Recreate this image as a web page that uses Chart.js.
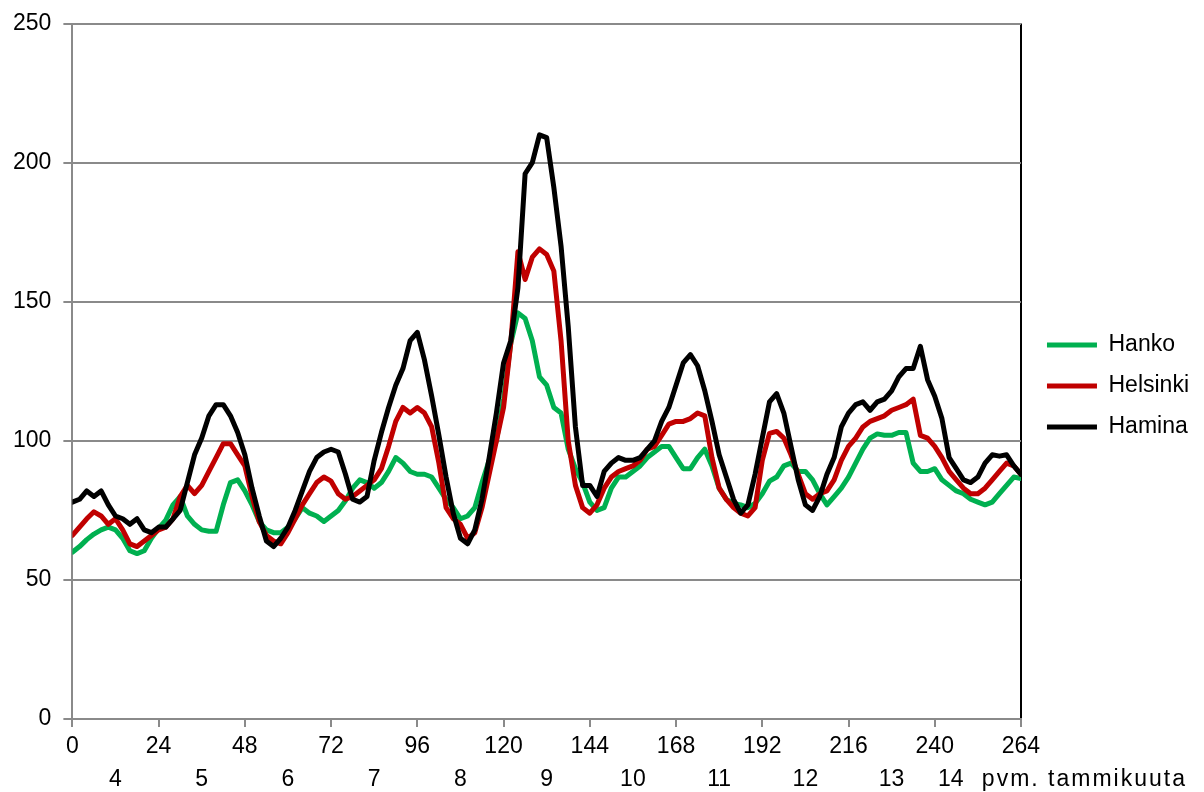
<!DOCTYPE html>
<html>
<head>
<meta charset="utf-8">
<script src="https://cdn.jsdelivr.net/npm/chart.js@4.4.1/dist/chart.umd.min.js"></script>
<style>
  html, body { margin: 0; padding: 0; background: #fff; }
  #wrap { width: 1204px; height: 792px; position: relative; }
</style>
</head>
<body>
<div id="wrap"><canvas id="chart"></canvas></div>
<script>
// tunnit 0..264, 2 h välein
const hours = Array.from({ length: 133 }, (_, i) => i * 2);

const hanko = [
  60, 62, 64.5, 66.5, 68, 69, 68, 65, 60.5, 59.5, 60.5, 65,
  68.5, 71.5, 77, 80, 73, 70, 68, 67.5, 67.5, 77, 85, 86,
  82, 77, 71, 68, 67, 67, 69, 72, 76, 74, 73, 71,
  73, 75, 78.5, 83, 86, 85, 83, 85, 89, 94, 92, 89,
  88, 88, 87, 83, 79, 76, 72, 73, 76, 85, 93, 100,
  115, 135, 146, 144, 136, 123, 120, 112, 110, 97, 90, 85,
  78, 75, 76, 83, 87, 87, 89, 91, 94, 96, 98, 98,
  94, 90, 90, 94, 97, 91, 83, 79, 77.5, 77, 76, 77.5,
  81, 85.5, 87, 91, 92, 89, 89, 86, 81, 77, 80, 83,
  87, 92, 97, 101, 102.5, 102, 102, 103, 103, 92, 89, 89,
  90, 86, 84, 82, 81, 79, 78, 77, 78, 81, 84, 87,
  86.5
];

const helsinki = [
  66, 69, 72, 74.5, 73, 70, 72, 68, 63, 62, 64, 66,
  68, 69, 72, 80, 84, 81, 84, 89, 94, 99, 99, 95,
  91, 80, 71, 66, 64, 63, 67, 72, 77, 81, 85, 87,
  85.5, 81, 79, 80, 82, 84, 86, 90, 98, 107, 112, 110,
  112, 110, 105, 92, 76, 72, 70, 65, 67, 76, 88, 100,
  112, 135, 168, 158, 166, 169, 167, 161, 136, 100, 84, 76,
  74, 77, 83, 87, 89, 90, 91, 93, 97, 98, 102, 106,
  107, 107, 108, 110, 109, 94, 83, 79, 76, 74, 73, 76,
  93, 102.7, 103.4, 101, 95, 88, 81, 79, 81, 82, 86, 93,
  98, 101, 105, 107, 108, 109, 111, 112, 113, 115, 102, 101,
  98, 94, 89, 86, 83, 81, 81, 83, 86, 89, 92, 91,
  88
];

const hamina = [
  78, 79, 82, 80, 82, 77, 73, 72, 70, 72, 68, 67,
  69, 69, 72, 75, 85, 95, 101, 109, 113, 113, 109, 103,
  95, 83, 73, 64, 62, 65, 69, 75, 82, 89, 94, 96,
  97, 96, 88, 79, 78, 80, 93, 103, 112, 120, 126, 136,
  139, 129, 116, 102, 87, 74, 65, 63, 68, 79, 94, 110,
  128, 136, 155, 196, 200, 210, 209, 191, 170, 141, 105, 84,
  84, 80, 89, 92, 94, 93, 93, 94, 97, 100, 107, 112,
  120, 128, 131, 127, 118, 107, 95, 87, 79, 74, 77, 88,
  101, 114, 117, 110, 98, 86, 77, 75, 80, 88, 94, 105,
  110, 113, 114, 111, 114, 115, 118, 123, 126, 126, 134, 122,
  116, 108, 94, 90, 86, 85, 87, 92, 95, 94.5, 95, 91,
  88
];

const seriesNames = ['Hanko', 'Helsinki', 'Hamina'];
const seriesColors = ['#00B050', '#C00000', '#000000'];
const hourTicks = [0, 24, 48, 72, 96, 120, 144, 168, 192, 216, 240, 264];
const dayTicks = [12, 36, 60, 84, 108, 132, 156, 180, 204, 228];
const dayLabels = ['4', '5', '6', '7', '8', '9', '10', '11', '12', '13'];
const lastDay = '14';
const unitText = 'pvm. tammikuuta';

const FONT = "'Liberation Sans', Arial, sans-serif";
const GRID = '#8a8a8a';

function toPoints(arr) {
  return arr.map((v, i) => ({ x: hours[i], y: v }));
}

// legenda hieman ylemmäs ja oikealle, kuten alkuperäisessä
const legendShift = {
  id: 'legendShift',
  afterLayout(chart) {
    const lg = chart.legend;
    if (!lg) return;
    lg.top -= 11; lg.bottom -= 11;
    lg.left += 8; lg.right += 8;
  }
};

// viimeinen päivä + yksikköteksti akselin alle
const lastDayPlugin = {
  id: 'lastDay',
  afterDraw(chart) {
    const ctx = chart.ctx;
    const xs = chart.scales.x;
    const y = 780;
    ctx.save();
    ctx.font = '23px ' + FONT;
    ctx.fillStyle = '#000';
    ctx.textBaseline = 'middle';
    ctx.textAlign = 'center';
    ctx.fillText(lastDay, xs.getPixelForValue(252) - 27, y);
    ctx.textAlign = 'left';
    ctx.letterSpacing = '2px';
    ctx.fillText(unitText, xs.getPixelForValue(252) + 4, y);
    ctx.restore();
  }
};

window.onload = function () {
  const ctx = document.getElementById('chart');
  const datasets = [hanko, helsinki, hamina].map((arr, i) => ({
    label: seriesNames[i],
    data: toPoints(arr),
    borderColor: seriesColors[i],
    backgroundColor: seriesColors[i],
    borderWidth: 5,
    borderCapStyle: 'round',
    borderJoinStyle: 'round',
    pointRadius: 0,
    tension: 0,
    order: 2 - i
  }));

  new Chart(ctx, {
    type: 'line',
    data: { datasets: datasets },
    options: {
      responsive: true,
      maintainAspectRatio: false,
      animation: false,
      layout: { padding: { top: 2, left: 1, right: 13, bottom: 0 } },
      plugins: {
        tooltip: { enabled: false },
        legend: {
          position: 'right',
          align: 'center',
          labels: {
            usePointStyle: true,
            pointStyle: 'line',
            pointStyleWidth: 50,
            boxHeight: 23,
            padding: 18,
            color: '#000',
            font: { family: FONT, size: 23 },
            sort: (a, b) => a.datasetIndex - b.datasetIndex
          }
        }
      },
      scales: {
        x: {
          type: 'linear',
          min: 0,
          max: 264,
          afterBuildTicks: (axis) => { axis.ticks = hourTicks.map(v => ({ value: v })); },
          ticks: {
            color: '#000',
            font: { family: FONT, size: 23 },
            padding: 6,
            maxRotation: 0,
            autoSkip: false
          },
          grid: {
            drawOnChartArea: true,
            color: (c) => (c.tick && c.tick.value === 264 ? '#000' : 'rgba(0,0,0,0)'),
            lineWidth: 2,
            tickColor: GRID,
            tickLength: 8
          },
          border: { color: GRID, width: 2 }
        },
        days: {
          type: 'linear',
          position: 'bottom',
          axis: 'x',
          min: 0,
          max: 264,
          afterBuildTicks: (axis) => { axis.ticks = dayTicks.map(v => ({ value: v })); },
          ticks: {
            color: '#000',
            font: { family: FONT, size: 23, lineHeight: 1.1 },
            padding: 0,
            maxRotation: 0,
            autoSkip: false,
            callback: (v) => dayLabels[dayTicks.indexOf(v)]
          },
          grid: { display: false, drawTicks: false },
          border: { display: false }
        },
        y: {
          min: 0,
          max: 250,
          ticks: {
            stepSize: 50,
            color: '#000',
            font: { family: FONT, size: 23, lineHeight: 1.0 },
            padding: 12
          },
          grid: {
            color: GRID,
            lineWidth: 2,
            tickColor: GRID,
            tickLength: 9
          },
          border: { color: GRID, width: 2 }
        }
      }
    },
    plugins: [legendShift, lastDayPlugin]
  });
};
</script>
</body>
</html>
